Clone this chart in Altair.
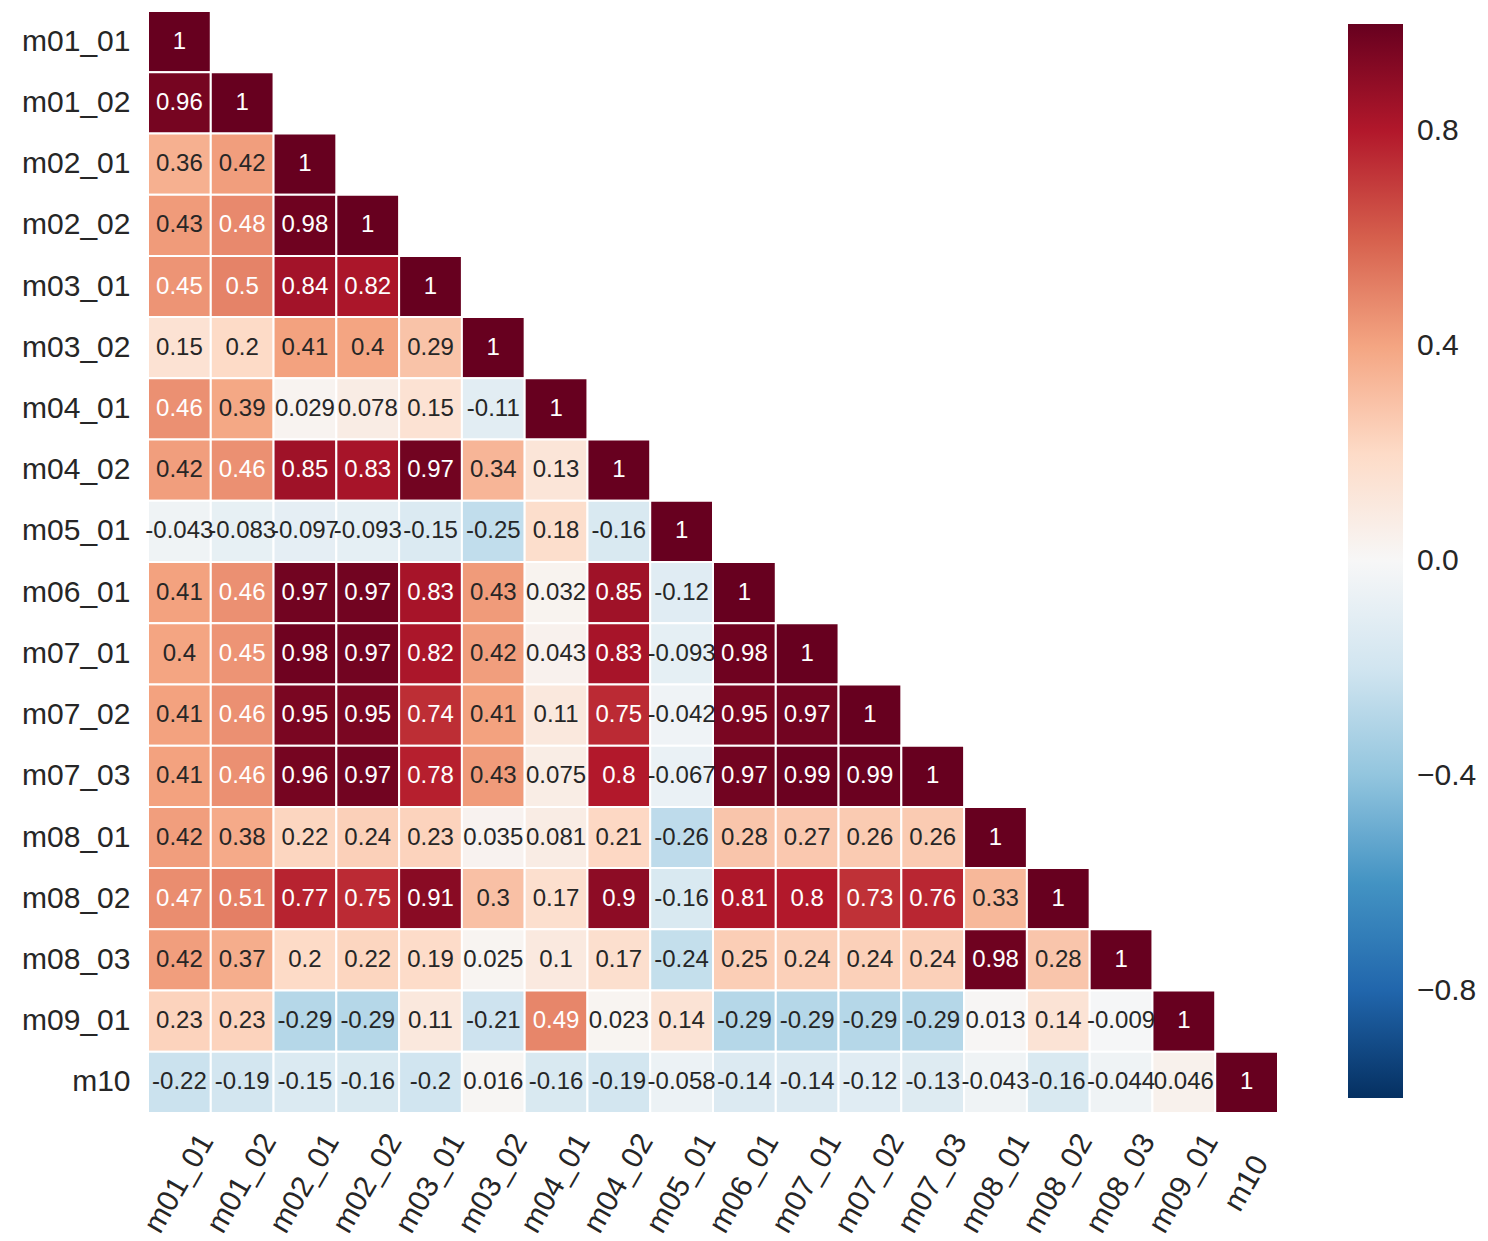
import altair as alt
import pandas as pd

names = ["m01_01", "m01_02", "m02_01", "m02_02", "m03_01", "m03_02", "m04_01",
         "m04_02", "m05_01", "m06_01", "m07_01", "m07_02", "m07_03", "m08_01",
         "m08_02", "m08_03", "m09_01", "m10"]

r_m01_01 = [1]
r_m01_02 = [0.96, 1]
r_m02_01 = [0.36, 0.42, 1]
r_m02_02 = [0.43, 0.48, 0.98, 1]
r_m03_01 = [0.45, 0.5, 0.84, 0.82, 1]
r_m03_02 = [0.15, 0.2, 0.41, 0.4, 0.29, 1]
r_m04_01 = [0.46, 0.39, 0.029, 0.078, 0.15, -0.11, 1]
r_m04_02 = [0.42, 0.46, 0.85, 0.83, 0.97, 0.34, 0.13, 1]
r_m05_01 = [-0.043, -0.083, -0.097, -0.093, -0.15, -0.25, 0.18, -0.16, 1]
r_m06_01 = [0.41, 0.46, 0.97, 0.97, 0.83, 0.43, 0.032, 0.85, -0.12, 1]
r_m07_01 = [0.4, 0.45, 0.98, 0.97, 0.82, 0.42, 0.043, 0.83, -0.093, 0.98, 1]
r_m07_02 = [0.41, 0.46, 0.95, 0.95, 0.74, 0.41, 0.11, 0.75, -0.042, 0.95, 0.97, 1]
r_m07_03 = [0.41, 0.46, 0.96, 0.97, 0.78, 0.43, 0.075, 0.8, -0.067, 0.97, 0.99, 0.99, 1]
r_m08_01 = [0.42, 0.38, 0.22, 0.24, 0.23, 0.035, 0.081, 0.21, -0.26, 0.28, 0.27, 0.26, 0.26, 1]
r_m08_02 = [0.47, 0.51, 0.77, 0.75, 0.91, 0.3, 0.17, 0.9, -0.16, 0.81, 0.8, 0.73, 0.76, 0.33, 1]
r_m08_03 = [0.42, 0.37, 0.2, 0.22, 0.19, 0.025, 0.1, 0.17, -0.24, 0.25, 0.24, 0.24, 0.24, 0.98, 0.28, 1]
r_m09_01 = [0.23, 0.23, -0.29, -0.29, 0.11, -0.21, 0.49, 0.023, 0.14, -0.29, -0.29, -0.29, -0.29,
            0.013, 0.14, -0.009, 1]
r_m10 = [-0.22, -0.19, -0.15, -0.16, -0.2, 0.016, -0.16, -0.19, -0.058, -0.14, -0.14, -0.12,
         -0.13, -0.043, -0.16, -0.044, 0.046, 1]

rows = [r_m01_01, r_m01_02, r_m02_01, r_m02_02, r_m03_01, r_m03_02, r_m04_01, r_m04_02,
        r_m05_01, r_m06_01, r_m07_01, r_m07_02, r_m07_03, r_m08_01, r_m08_02, r_m08_03,
        r_m09_01, r_m10]

# RdBu_r (ColorBrewer RdBu, reversed), linearly interpolated like matplotlib
cmap_stops = [-1.0, -0.8, -0.6, -0.4, -0.2, 0.0, 0.2, 0.4, 0.6, 0.8, 1.0]
cmap_colors = ["#053061", "#2166ac", "#4393c3", "#92c5de", "#d1e5f0", "#f7f7f7",
               "#fddbc7", "#f4a582", "#d6604d", "#b2182b", "#67001f"]

recs = []
for i, row in enumerate(rows):
    for j, v in enumerate(row):
        recs.append({
            "row": names[i],
            "col": names[j],
            "v": v,
            "label": format(v, ".2g"),
        })
df = pd.DataFrame(recs)

FONT = "Liberation Sans"

x = alt.X("col:N", sort=names, title=None,
          scale=alt.Scale(paddingInner=0, paddingOuter=0),
          axis=alt.Axis(labelAngle=-60, labelAlign="center", labelBaseline="middle",
                        labelPadding=70, ticks=False, tickSize=0, domain=False,
                        labelFontSize=30, labelColor="#262626", labelFont=FONT,
                        labelOverlap=False, grid=False))
y = alt.Y("row:N", sort=names, title=None,
          scale=alt.Scale(paddingInner=0, paddingOuter=0),
          axis=alt.Axis(ticks=False, tickSize=0, domain=False, labelPadding=18,
                        labelFontSize=30, labelColor="#262626", labelFont=FONT,
                        labelOverlap=False, grid=False))

rects = alt.Chart(df).mark_rect(stroke="white", strokeWidth=2).encode(
    x=x, y=y,
    color=alt.Color("v:Q",
                    scale=alt.Scale(domain=cmap_stops, range=cmap_colors, interpolate="rgb"),
                    legend=alt.Legend(title=None, orient="none", legendX=1200, legendY=13,
                                      direction="vertical",
                                      gradientLength=1074, gradientThickness=55,
                                      gradientStrokeWidth=0,
                                      values=[-0.8, -0.4, 0.0, 0.4, 0.8], format=".1f",
                                      labelFontSize=30, labelFont=FONT,
                                      labelColor="#262626", labelOffset=14,
                                      labelOverlap=False)),
)

texts = alt.Chart(df).mark_text(fontSize=24, font=FONT).encode(
    x=alt.X("col:N", sort=names),
    y=alt.Y("row:N", sort=names),
    text="label:N",
    color=alt.condition("datum.v >= 0.44", alt.value("#ffffff"), alt.value("#262626")),
)

chart = alt.layer(rects, texts).properties(
    width=1130, height=1102,
    padding={"left": 13, "top": 2, "right": 0, "bottom": 5},
).configure_view(stroke=None, strokeWidth=0).configure_axis(
    domain=False, grid=False, ticks=False
).configure(background="white",
            style={"cell": {"stroke": "transparent", "strokeWidth": 0}})

chart.save("out.html", embed_options={"renderer": "svg", "actions": False})
